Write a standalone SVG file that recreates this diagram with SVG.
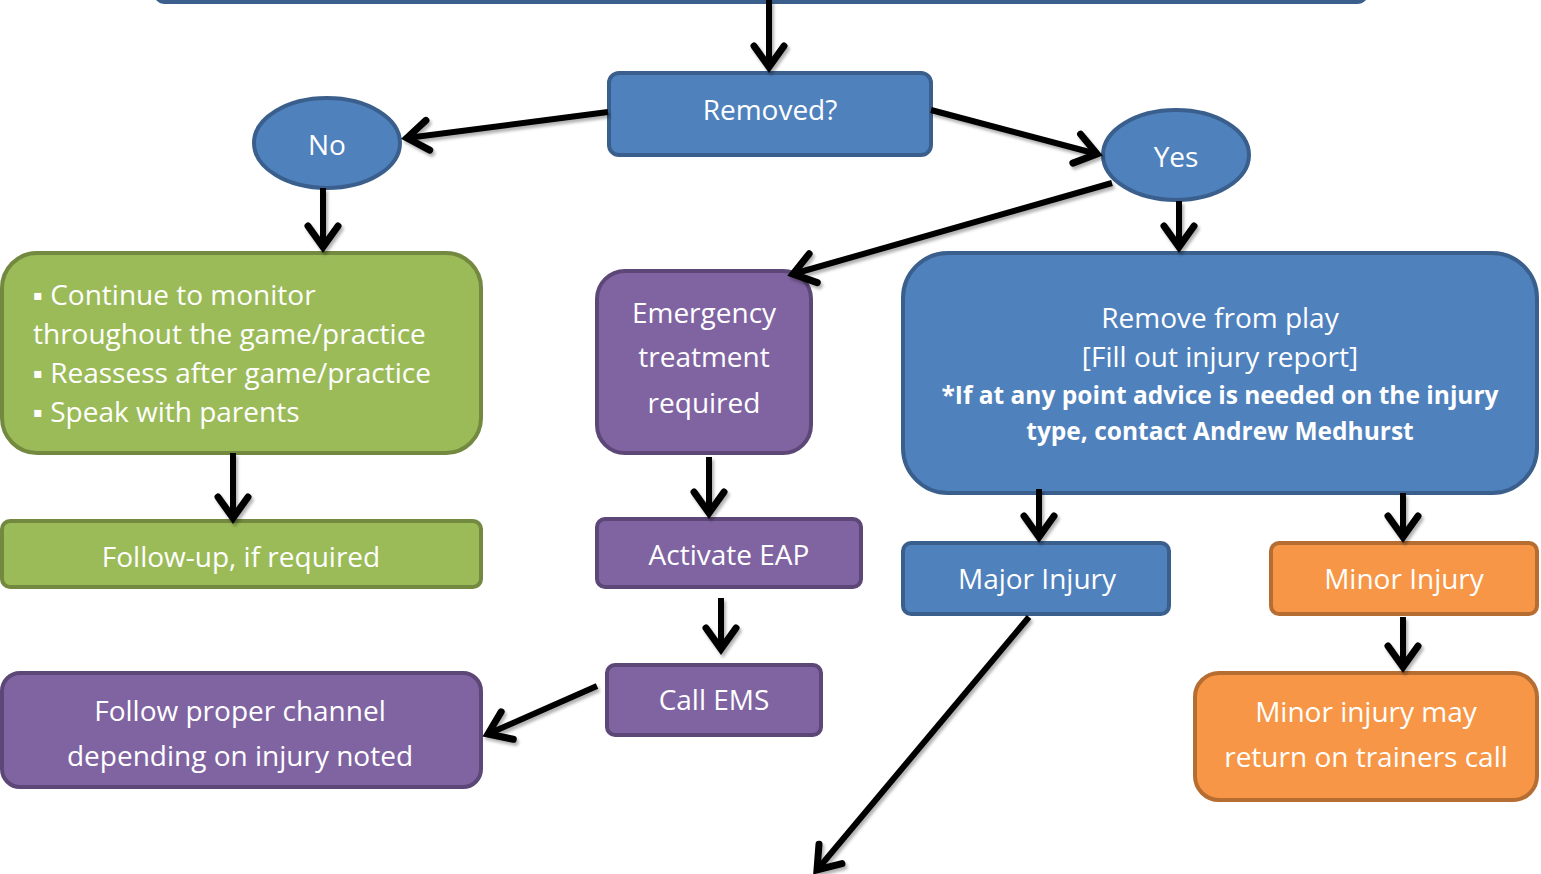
<svg xmlns="http://www.w3.org/2000/svg" width="1541" height="874" viewBox="0 0 1541 874">
<defs>
<marker id="ah" markerUnits="userSpaceOnUse" markerWidth="44" markerHeight="44" viewBox="-28 -22 34 44" refX="0" refY="0" orient="auto">
<path d="M-21,-15 L0,0 L-21,15" fill="none" stroke="#000" stroke-width="7" stroke-linecap="round" stroke-linejoin="miter"/>
</marker>
<filter id="sh" x="-10%" y="-10%" width="120%" height="120%">
<feDropShadow dx="2" dy="3" stdDeviation="1.5" flood-color="#000" flood-opacity="0.3"/>
</filter>
</defs>
<style>
.blue{fill:#4F81BD;stroke:#3A5F8C;stroke-width:4}
.green{fill:#9BBB59;stroke:#72893F;stroke-width:4}
.purple{fill:#8064A2;stroke:#5C4776;stroke-width:4}
.orange{fill:#F79646;stroke:#B66D31;stroke-width:4}
text{font-family:"Open Sans","Noto Sans","Liberation Sans",sans-serif;fill:#fff;font-size:28px}
.c{text-anchor:middle}
.b{font-weight:bold;font-size:24.5px}
.conn line{stroke:#000;stroke-width:6;marker-end:url(#ah)}
</style>
<g id="top">
<rect class="blue" x="155" y="-60" width="1212" height="62" rx="10"/>
</g>
<g id="removed">
<rect class="blue" x="609" y="73" width="322" height="82" rx="10"/>
<text class="c" x="770" y="120">Removed?</text>
</g>
<g id="no">
<ellipse class="blue" cx="327" cy="143" rx="73" ry="45"/>
<text class="c" x="327" y="155">No</text>
</g>
<g id="yes">
<ellipse class="blue" cx="1176" cy="155" rx="73" ry="45"/>
<text class="c" x="1176" y="167">Yes</text>
</g>
<g id="monitor">
<rect class="green" x="2" y="253" width="479" height="200" rx="35"/>
<text x="33" y="305">▪ Continue to monitor</text>
<text x="33" y="344">throughout the game/practice</text>
<text x="33" y="383">▪ Reassess after game/practice</text>
<text x="33" y="422">▪ Speak with parents</text>
</g>
<g id="followup">
<rect class="green" x="2" y="521" width="479" height="66" rx="8"/>
<text class="c" x="241" y="567">Follow-up, if required</text>
</g>
<g id="emergency">
<rect class="purple" x="597" y="271" width="214" height="182" rx="28"/>
<text class="c" x="704" y="323">Emergency</text>
<text class="c" x="704" y="367">treatment</text>
<text class="c" x="704" y="413">required</text>
</g>
<g id="eap">
<rect class="purple" x="597" y="519" width="264" height="68" rx="8"/>
<text class="c" x="729" y="565">Activate EAP</text>
</g>
<g id="ems">
<rect class="purple" x="607" y="665" width="214" height="70" rx="8"/>
<text class="c" x="714" y="710">Call EMS</text>
</g>
<g id="channel">
<rect class="purple" x="2" y="673" width="479" height="114" rx="18"/>
<text class="c" x="240" y="721">Follow proper channel</text>
<text class="c" x="240" y="766">depending on injury noted</text>
</g>
<g id="remove">
<rect class="blue" x="903" y="253" width="634" height="240" rx="45"/>
<text class="c" x="1220" y="328">Remove from play</text>
<text class="c" x="1220" y="367">[Fill out injury report]</text>
<text class="c b" x="1220" y="404">*If at any point advice is needed on the injury</text>
<text class="c b" x="1220" y="440">type, contact Andrew Medhurst</text>
</g>
<g id="major">
<rect class="blue" x="903" y="543" width="266" height="71" rx="8"/>
<text class="c" x="1037" y="589">Major Injury</text>
</g>
<g id="minor">
<rect class="orange" x="1271" y="543" width="266" height="71" rx="8"/>
<text class="c" x="1404" y="589">Minor Injury</text>
</g>
<g id="minormay">
<rect class="orange" x="1195" y="673" width="342" height="127" rx="24"/>
<text class="c" x="1366" y="722">Minor injury may</text>
<text class="c" x="1366" y="767">return on trainers call</text>
</g>
<g id="connectors" class="conn" filter="url(#sh)">
<line x1="769" y1="0" x2="769" y2="67"/>
<line x1="608" y1="112" x2="407" y2="138"/>
<line x1="931" y1="110" x2="1097" y2="154"/>
<line x1="323" y1="188" x2="323" y2="247"/>
<line x1="233" y1="453" x2="233" y2="518"/>
<line x1="1112" y1="183" x2="793" y2="274"/>
<line x1="1179" y1="201" x2="1179" y2="247"/>
<line x1="709" y1="457" x2="709" y2="513"/>
<line x1="721" y1="598" x2="721" y2="649"/>
<line x1="597" y1="686" x2="488" y2="734"/>
<line x1="1039" y1="489" x2="1039" y2="537"/>
<line x1="1403" y1="493" x2="1403" y2="537"/>
<line x1="1403" y1="617" x2="1403" y2="667"/>
<line x1="1029" y1="617" x2="817" y2="870"/>
</g>
</svg>
